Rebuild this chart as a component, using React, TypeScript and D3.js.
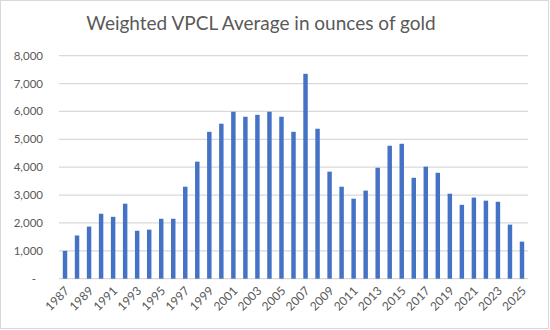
import React from "react";
import * as d3 from "d3";

const years: string[] = d3.range(1987, 2026).map(String);
const values: number[] = [
  1000, 1550, 1870, 2330, 2220, 2690, 1720, 1760, 2150, 2150,
  3300, 4200, 5270, 5560, 5990, 5810, 5880, 5990, 5810, 5270,
  7350, 5380, 3840, 3300, 2870, 3160, 3980, 4770, 4840, 3620,
  4020, 3800, 3050, 2650, 2910, 2800, 2760, 1940, 1330,
];
const yTicks: number[] = [0, 1000, 2000, 3000, 4000, 5000, 6000, 7000, 8000];
const title = "Weighted VPCL Average in ounces of gold";

const W = 550;
const H = 330;
const left = 59;
const right = 528;
const top = 55.7;
const bottom = 278.7;
const font = "Lato, 'Liberation Sans', sans-serif";
const textColor = "#595959";
const gridColor = "#d9d9d9";

export default function App() {
  const x = d3.scaleBand<string>().domain(years).range([left, right]).paddingInner(0.63).paddingOuter(0.315);
  const y = d3.scaleLinear().domain([0, 8000]).range([bottom, top]);
  const fmt = d3.format(",");
  return (
    <svg width={W} height={H} style={{ position: "absolute", left: 0, top: 0, background: "#fff" }}>
      <rect x={0.5} y={0.5} width={W - 2} height={H - 2} fill="#fff" stroke={gridColor} />
      <text x={261} y={30} textAnchor="middle" fontFamily={font} fontSize={19} fill={textColor}>
        {title}
      </text>
      {yTicks.map((t) => (
        <g key={t}>
          <line x1={left} x2={right} y1={y(t)} y2={y(t)} stroke={gridColor} strokeWidth={1.3} />
          <text
            x={t === 0 ? 36 : 43}
            y={y(t) + 4}
            textAnchor="end"
            fontFamily={font}
            fontSize={11.5}
            fill={textColor}
          >
            {t === 0 ? "-" : fmt(t)}
          </text>
        </g>
      ))}
      {years.map((yr, i) => (
        <rect
          key={yr}
          x={x(yr)}
          y={y(values[i])}
          width={x.bandwidth()}
          height={bottom - y(values[i])}
          fill="#4472c4"
        />
      ))}
      {years.map((yr, i) =>
        i % 2 === 0 ? (
          <text
            key={yr}
            transform={`translate(${(x(yr) as number) + x.bandwidth() / 2 + 5},${bottom + 13}) rotate(-45)`}
            textAnchor="end"
            fontFamily={font}
            fontSize={12}
            fill={textColor}
          >
            {yr}
          </text>
        ) : null
      )}
    </svg>
  );
}
